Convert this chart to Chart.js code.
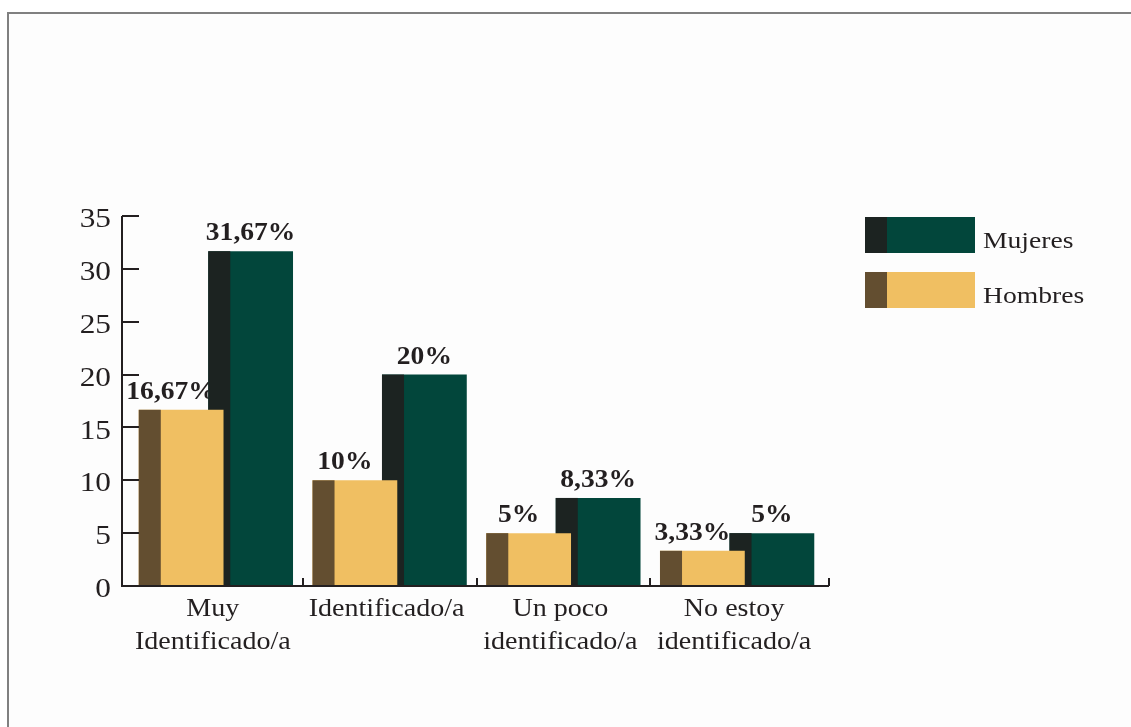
<!DOCTYPE html>
<html>
<head>
<meta charset="utf-8">
<script src="https://cdn.jsdelivr.net/npm/chart.js@4.4.0/dist/chart.umd.min.js"></script>
<style>
  html, body { margin: 0; padding: 0; background: #fff; }
  #wrap { position: relative; width: 1131px; height: 727px; overflow: hidden; }
  #marco { position: absolute; left: 7px; top: 12px; right: 0; bottom: 0;
           border-top: 2px solid #808080; border-left: 2px solid #808080; background: #fdfdfd; }
  #grafico { position: absolute; left: 0; top: 0; }
</style>
</head>
<body>
<div id="wrap">
  <div id="marco"></div>
  <canvas id="grafico" width="1131" height="727"></canvas>
</div>
<script>
// datos
const categorias = [['Muy', 'Identificado/a'], ['Identificado/a'], ['Un poco', 'identificado/a'], ['No estoy', 'identificado/a']];
const hombres = [16.67, 10, 5, 3.33];
const mujeres = [31.67, 20, 8.33, 5];
const etiquetasHombres = ['16,67%', '10%', '5%', '3,33%'];
const etiquetasMujeres = ['31,67%', '20%', '8,33%', '5%'];
const ejeY = { min: 0, max: 35, paso: 5 };

const colorTexto = '#231f20';
const fuente = "'Liberation Serif', 'Times New Roman', serif";
const ejeIzq = 122, ejeDer = 829;

// texto algo estirado en horizontal, como en la imagen original
function texto(ctx, s, x, y, estira, align) {
  ctx.save();
  ctx.translate(x, y);
  ctx.scale(estira, 1);
  ctx.textAlign = align;
  ctx.fillText(s, 0, 0);
  ctx.restore();
}

// franja oscura a la izquierda de cada barra
const franjas = {
  id: 'franjas',
  afterDatasetDraw(chart, args) {
    const ctx = chart.ctx;
    const ds = chart.data.datasets[args.index];
    ctx.save();
    ctx.fillStyle = ds.colorFranja;
    args.meta.data.forEach(bar => {
      const w = bar.width;
      ctx.fillRect(bar.x - w / 2, bar.y, w * 0.26, bar.base - bar.y);
    });
    ctx.restore();
  }
};

// etiquetas de valor, antes de las barras
const etiquetas = {
  id: 'etiquetas',
  beforeDatasetsDraw(chart) {
    const ctx = chart.ctx;
    ctx.save();
    ctx.font = 'bold 26px ' + fuente;
    ctx.fillStyle = colorTexto;
    ctx.textBaseline = 'alphabetic';
    chart.data.datasets.forEach((ds, i) => {
      chart.getDatasetMeta(i).data.forEach((bar, j) => {
        texto(ctx, ds.textos[j], bar.x + ds.desplaza, bar.y - 11, 1.06, 'center');
      });
    });
    ctx.restore();
  }
};

// ejes, marcas, rotulos y leyenda
const ejes = {
  id: 'ejes',
  afterDraw(chart) {
    const ctx = chart.ctx;
    const ys = chart.scales.y;
    const xs = chart.scales.x;
    const area = chart.chartArea;
    ctx.save();
    ctx.strokeStyle = colorTexto;
    ctx.lineWidth = 2;
    ctx.beginPath();
    ctx.moveTo(ejeIzq, Math.round(ys.getPixelForValue(ejeY.max)));
    ctx.lineTo(ejeIzq, area.bottom);
    ctx.lineTo(ejeDer, area.bottom);
    ys.ticks.forEach(t => {
      if (t.value === ejeY.min) return;
      const y = Math.round(ys.getPixelForValue(t.value));
      ctx.moveTo(ejeIzq, y);
      ctx.lineTo(ejeIzq + 17, y);
    });
    const ancho = (area.right - area.left) / categorias.length;
    for (let i = 1; i < categorias.length; i++) {
      const x = Math.round(area.left + i * ancho);
      ctx.moveTo(x, area.bottom);
      ctx.lineTo(x, area.bottom - 8);
    }
    ctx.moveTo(ejeDer, area.bottom);
    ctx.lineTo(ejeDer, area.bottom - 8);
    ctx.stroke();

    ctx.fillStyle = colorTexto;
    ctx.textBaseline = 'middle';
    ctx.font = '27px ' + fuente;
    ys.ticks.forEach(t => {
      texto(ctx, String(t.value), 111, ys.getPixelForValue(t.value) + 4, 1.16, 'right');
    });

    ctx.textBaseline = 'alphabetic';
    ctx.font = '26px ' + fuente;
    categorias.forEach((lineas, i) => {
      const x = xs.getPixelForValue(i) - 3;
      lineas.forEach((s, k) => texto(ctx, s, x, area.bottom + 30 + k * 33, 1.08, 'center'));
    });

    // leyenda
    const items = [chart.data.datasets[1], chart.data.datasets[0]];
    items.forEach((ds, k) => {
      const top = 217 + k * 55;
      ctx.fillStyle = ds.backgroundColor;
      ctx.fillRect(865, top, 110, 36);
      ctx.fillStyle = ds.colorFranja;
      ctx.fillRect(865, top, 22, 36);
      ctx.fillStyle = colorTexto;
      ctx.font = '24px ' + fuente;
      texto(ctx, ds.label, 983, top + 31, 1.15, 'left');
    });
    ctx.restore();
  }
};

new Chart(document.getElementById('grafico'), {
  type: 'bar',
  data: {
    labels: categorias,
    datasets: [
      {
        label: 'Hombres',
        data: hombres,
        backgroundColor: '#f0bf62',
        colorFranja: '#634e30',
        textos: etiquetasHombres,
        desplaza: -10,
        order: 0,
        categoryPercentage: 0.8,
        barPercentage: 1.22
      },
      {
        label: 'Mujeres',
        data: mujeres,
        backgroundColor: '#02463b',
        colorFranja: '#1c2321',
        textos: etiquetasMujeres,
        desplaza: 0,
        order: 1,
        categoryPercentage: 0.8,
        barPercentage: 1.22
      }
    ]
  },
  options: {
    responsive: false,
    animation: false,
    layout: { padding: { top: 216, right: 307, left: 0, bottom: 0 } },
    plugins: {
      legend: { display: false },
      tooltip: { enabled: false }
    },
    scales: {
      x: {
        grid: { display: false },
        border: { display: false },
        ticks: { display: false },
        afterFit(scale) { scale.height = 141; }
      },
      y: {
        min: ejeY.min,
        max: ejeY.max,
        grid: { display: false },
        border: { display: false },
        ticks: { display: false, stepSize: ejeY.paso },
        afterFit(scale) { scale.width = 129; }
      }
    }
  },
  plugins: [franjas, etiquetas, ejes]
});
</script>
</body>
</html>
